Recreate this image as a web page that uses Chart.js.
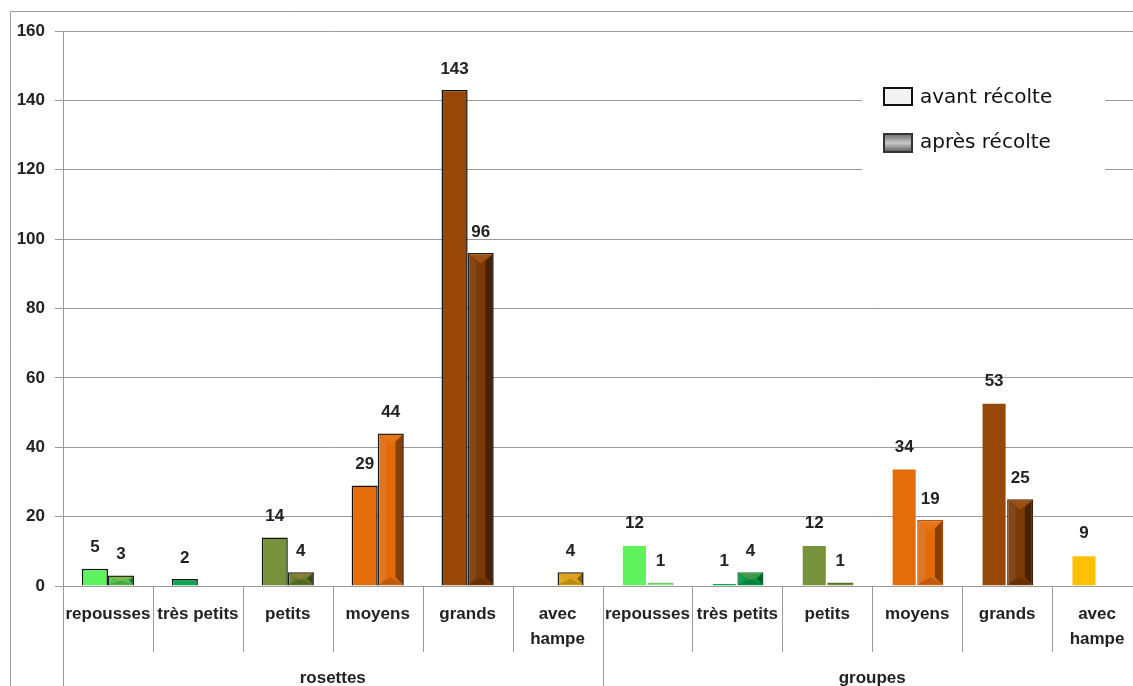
<!DOCTYPE html>
<html>
<head>
<meta charset="utf-8">
<script src="https://cdn.jsdelivr.net/npm/chart.js@4"></script>
<style>
  html, body { margin: 0; padding: 0; background: #fff; overflow: hidden; }
  #wrap { width: 1142px; height: 686px; position: relative; }
</style>
</head>
<body>
<div id="wrap"><canvas id="barChart"></canvas></div>
<script>
const categories = ['repousses', 'très petits', 'petits', 'moyens', 'grands', ['avec', 'hampe'],
                    'repousses', 'très petits', 'petits', 'moyens', 'grands', ['avec', 'hampe']];
const groups = ['rosettes', 'groupes'];
const groupSize = 6;
const seriesNames = ['avant récolte', 'après récolte'];
const avantRecolte = [5, 2, 14, 29, 143, null, 12, 1, 12, 34, 53, 9];
const apresRecolte = [3, null, 4, 44, 96, 4, 1, 4, 1, 19, 25, null];
const yTicks = [0, 20, 40, 60, 80, 100, 120, 140, 160];

// colours per bar
const avantColors = ['#5ef25e', '#07a84e', '#76933c', '#e46c0a', '#974806', '#ffc000',
                     '#5ef25e', '#07a84e', '#76933c', '#e46c0a', '#974806', '#ffc000'];
const apresColors = ['#4fc44f', '#079a47', '#5f7a2c', '#e06a0c', '#7a3905', '#d9a514',
                     '#8fe88f', '#079a47', '#6d8a38', '#e06a0c', '#7a3905', '#d9a514'];
const avantBorders = ['#111', '#111', '#111', '#111', '#111', '#111',
                      'rgba(0,0,0,0)', 'rgba(0,0,0,0)', 'rgba(0,0,0,0)', 'rgba(0,0,0,0)', 'rgba(0,0,0,0)', 'rgba(0,0,0,0)'];
const apresBorders = ['#1a1a1a', '#1a1a1a', '#1a1a1a', '#1a1a1a', '#1a1a1a', '#1a1a1a',
                      '#6fcf6f', '#0a7a3a', '#55702a', '#b5520a', '#4a2303', '#8a6a0a'];

const labelFont = 'bold 17px "Liberation Sans", Arial, sans-serif';
const gridGray = '#9a9a9a';

const decorPlugin = {
    id: 'decor',
    afterDatasetsDraw(chart) {
        const ctx = chart.ctx;
        // bevel on "après" bars
        const meta = chart.getDatasetMeta(1);
        meta.data.forEach((el, i) => {
            if (apresRecolte[i] == null) return;
            const p = el.getProps(['x', 'y', 'base', 'width'], true);
            const l = p.x - p.width / 2 + 1, r = p.x + p.width / 2 - 1;
            const t = p.y + 1, b = p.base - 1;
            let s = Math.min(p.width * 0.28, 8, (b - t) / 2);
            if (s < 0.5) return;
            ctx.save();
            ctx.fillStyle = 'rgba(255,150,60,0.25)';
            ctx.beginPath(); ctx.moveTo(l, t); ctx.lineTo(r, t); ctx.lineTo(p.x, t + s * 1.3); ctx.closePath(); ctx.fill();
            ctx.fillStyle = 'rgba(255,255,255,0.08)';
            ctx.beginPath(); ctx.moveTo(l, t); ctx.lineTo(l + s, t + s); ctx.lineTo(l + s, b - s); ctx.lineTo(l, b); ctx.closePath(); ctx.fill();
            ctx.fillStyle = 'rgba(0,0,0,0.4)';
            ctx.beginPath(); ctx.moveTo(r, t); ctx.lineTo(r - s, t + s); ctx.lineTo(r - s, b - s); ctx.lineTo(r, b); ctx.closePath(); ctx.fill();
            ctx.fillStyle = 'rgba(0,0,0,0.15)';
            ctx.beginPath(); ctx.moveTo(l, b); ctx.lineTo(r, b); ctx.lineTo(p.x, b - s); ctx.closePath(); ctx.fill();
            ctx.restore();
        });
        // value labels
        ctx.save();
        ctx.font = labelFont;
        ctx.fillStyle = '#222';
        ctx.textAlign = 'center';
        ctx.textBaseline = 'middle';
        [avantRecolte, apresRecolte].forEach((vals, di) => {
            chart.getDatasetMeta(di).data.forEach((el, i) => {
                if (vals[i] == null) return;
                ctx.fillText(String(vals[i]), el.x, el.y - 21);
            });
        });
        ctx.restore();
    },
    afterDraw(chart) {
        const ctx = chart.ctx;
        const area = chart.chartArea;
        const xs = chart.scales.x;
        const n = categories.length;
        const H = chart.height;
        ctx.save();
        ctx.strokeStyle = gridGray;
        ctx.lineWidth = 1;
        // outer frame
        ctx.beginPath();
        ctx.moveTo(10.5, H); ctx.lineTo(10.5, 11.5); ctx.lineTo(chart.width, 11.5);
        ctx.stroke();
        // category dividers
        for (let i = 0; i < n; i++) {
            let px;
            if (i === 0) px = xs.left;
            else px = (xs.getPixelForValue(i - 1) + xs.getPixelForValue(i)) / 2;
            px = Math.round(px) + 0.5;
            const full = (i % groupSize === 0);
            ctx.beginPath();
            ctx.moveTo(px, area.bottom);
            ctx.lineTo(px, full ? H : area.bottom + 66);
            ctx.stroke();
        }
        ctx.restore();

        // legend box
        ctx.save();
        ctx.fillStyle = '#fff';
        ctx.fillRect(862, 76, 243, 102);
        ctx.fillStyle = '#f2f2f2';
        ctx.fillRect(884, 88, 28, 17);
        ctx.strokeStyle = '#111';
        ctx.lineWidth = 2;
        ctx.strokeRect(884, 88, 28, 17);
        const g = ctx.createLinearGradient(0, 134, 0, 152);
        g.addColorStop(0, '#6a6a6a');
        g.addColorStop(0.5, '#c8c8c8');
        g.addColorStop(1, '#5a5a5a');
        ctx.fillStyle = g;
        ctx.fillRect(884, 134, 28, 18);
        ctx.strokeStyle = '#333';
        ctx.strokeRect(884, 134, 28, 18);
        ctx.fillStyle = '#111';
        ctx.font = '20px "DejaVu Sans", sans-serif';
        ctx.textBaseline = 'middle';
        ctx.fillText(chart.data.datasets[0].label, 920, 98);
        ctx.fillText(chart.data.datasets[1].label, 920, 143);
        ctx.restore();
    }
};

const barData = {
    labels: categories,
    datasets: [
        {
            label: seriesNames[0],
            data: avantRecolte,
            backgroundColor: avantColors,
            borderColor: avantBorders,
            borderWidth: 1.5,
            xAxisID: 'x'
        },
        {
            label: seriesNames[1],
            data: apresRecolte,
            backgroundColor: apresColors,
            borderColor: apresBorders,
            borderWidth: 1.5,
            xAxisID: 'x'
        }
    ]
};

const barConfig = {
    type: 'bar',
    data: barData,
    options: {
        responsive: true,
        maintainAspectRatio: false,
        devicePixelRatio: 1,
        animation: false,
        layout: { padding: { top: 31, left: 0, right: 0, bottom: 0 } },
        datasets: { bar: { barPercentage: 1, categoryPercentage: 0.58 } },
        plugins: {
            legend: { display: false },
            tooltip: { enabled: false }
        },
        scales: {
            x: {
                type: 'category',
                weight: 0,
                grid: { display: false, drawTicks: false },
                border: { display: false },
                ticks: {
                    color: '#222',
                    font: { family: '"Liberation Sans", Arial, sans-serif', size: 17, weight: 'bold', lineHeight: 1.45 },
                    padding: 16,
                    maxRotation: 0,
                    autoSkip: false
                },
                afterFit: (scale) => { scale.height = 70; }
            },
            x2: {
                type: 'category',
                position: 'bottom',
                labels: groups,
                weight: 1,
                offset: true,
                grid: { display: false, drawTicks: false },
                border: { display: false },
                ticks: {
                    color: '#222',
                    font: { family: '"Liberation Sans", Arial, sans-serif', size: 17, weight: 'bold' },
                    padding: 12,
                    maxRotation: 0
                },
                afterFit: (scale) => { scale.height = 30; }
            },
            y: {
                min: 0,
                max: 160,
                afterBuildTicks: (scale) => { scale.ticks = yTicks.map(v => ({ value: v })); },
                grid: { color: gridGray, tickLength: 8, lineWidth: 1 },
                border: { color: gridGray },
                ticks: {
                    color: '#222',
                    font: { family: '"Liberation Sans", Arial, sans-serif', size: 17, weight: 'bold' },
                    padding: 10
                },
                afterFit: (scale) => { scale.width = 63; }
            }
        }
    },
    plugins: [decorPlugin]
};

let barChart = new Chart(document.getElementById('barChart'), barConfig);
</script>
</body>
</html>
